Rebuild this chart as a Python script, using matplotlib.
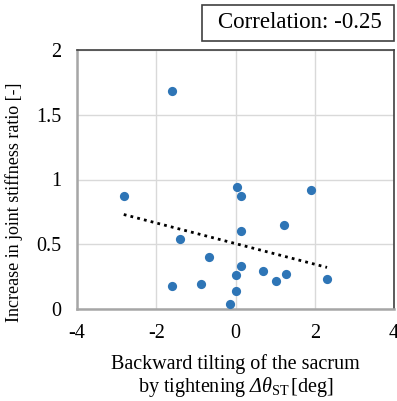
import numpy as np
import matplotlib
matplotlib.use("Agg")
import matplotlib.pyplot as plt
from matplotlib.patches import Rectangle

plt.rcParams['font.family'] = ['Liberation Serif', 'DejaVu Serif']
plt.rcParams['mathtext.fontset'] = 'custom'
plt.rcParams['mathtext.rm'] = 'Liberation Serif'
plt.rcParams['mathtext.it'] = 'Liberation Serif:italic'
# italic face for the capital Greek delta (mathtext keeps \mathit capitals upright)
plt.rcParams['mathtext.sf'] = 'Liberation Serif:italic'
plt.rcParams['axes.unicode_minus'] = False

# Backward tilting of the sacrum [deg] vs. increase in joint stiffness ratio [-]
tilt = [-1.61, -2.82, 0.04, 0.13, 1.90, -1.41, -1.60, -0.88, 1.22, 0.13,
        -0.67, 0.13, 0.69, 0.00, 1.02, 1.27, 2.31, 0.00, -0.15]
stiffness = [1.68, 0.87, 0.94, 0.87, 0.92, 0.54, 0.18, 0.19, 0.65, 0.60,
             0.40, 0.33, 0.29, 0.26, 0.22, 0.27, 0.23, 0.14, 0.04]
correlation_label = "Correlation: -0.25"
x_ticks = [-4, -2, 0, 2, 4]
y_ticks = [0, 0.5, 1, 1.5, 2]
y_tick_labels = ["0", "0.5", "1", "1.5", "2"]

fig = plt.figure(figsize=(3.97, 4.01), dpi=100)
ax = fig.add_axes([77 / 397, 1 - 309 / 401, 317 / 397, 259 / 401])

ax.set_xlim(-4, 4)
ax.set_ylim(0, 2)
ax.set_xticks(x_ticks)
ax.set_yticks(y_ticks)
ax.set_yticklabels(y_tick_labels)
ax.tick_params(length=0, pad=11, labelsize=14.5)
ax.grid(True, color='#d9d9d9', linewidth=1.0)
ax.set_axisbelow(True)

for side in ('left', 'bottom'):
    ax.spines[side].set_color('#a6a6a6')
    ax.spines[side].set_linewidth(1.8)
for side in ('top', 'right'):
    ax.spines[side].set_color('#404040')
    ax.spines[side].set_linewidth(1.2)

ax.scatter(tilt, stiffness, s=44, color='#2e75b6', zorder=3, linewidths=0)

# Linear trendline over the data range
slope, intercept = np.polyfit(tilt, stiffness, 1)
xt = np.array([min(tilt), max(tilt)])
ax.plot(xt, slope * xt + intercept, color='black', linestyle=(0, (1, 1.5)),
        linewidth=2.0, zorder=2)

ax.set_xlabel("Backward tilting of the sacrum\n"
              r"by tightening $\mathsf{Δ}\mathit{θ}_{\mathrm{ST}}\,$[deg]",
              fontsize=14.5, linespacing=1.05, labelpad=8)
ax.set_ylabel("Increase in joint stiffness ratio [-]", fontsize=13)
ax.yaxis.set_label_coords(-0.17, 0.413)

# Correlation box above the plot area
fig.patches.append(Rectangle((202 / 397, 1 - 41 / 401), 192 / 397, 36 / 401,
                             transform=fig.transFigure, facecolor='white',
                             edgecolor='#404040', linewidth=1.2))
fig.text(300 / 397, 1 - 23 / 401, correlation_label, ha='center', va='center',
         fontsize=16.5)

fig.savefig("out.png", dpi=100)
